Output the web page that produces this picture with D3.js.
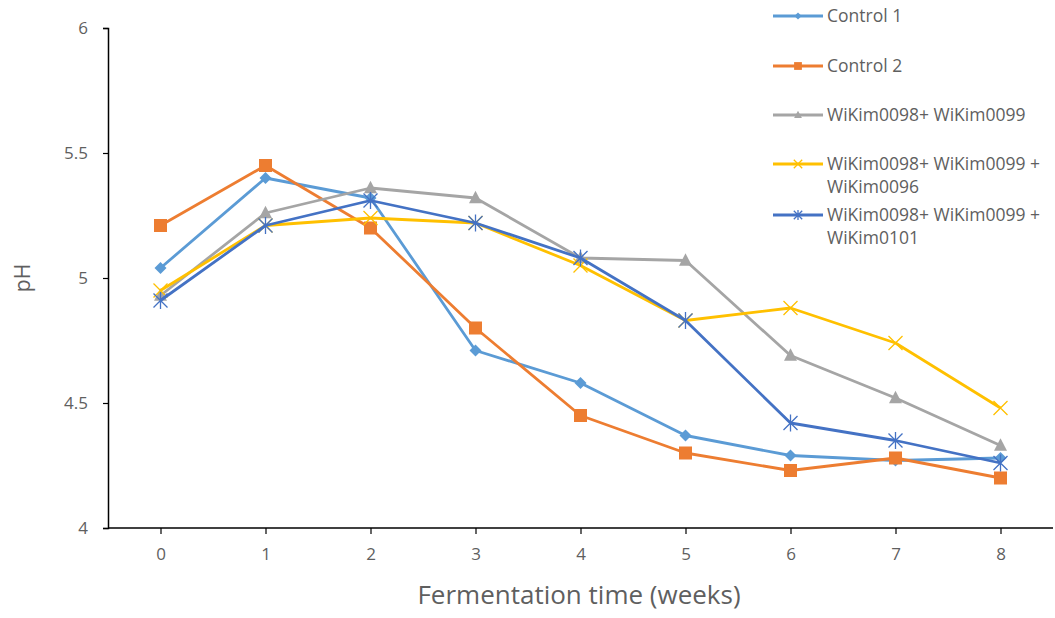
<!DOCTYPE html>
<html>
<head>
<meta charset="utf-8">
<script src="https://cdn.jsdelivr.net/npm/d3@7"></script>
<style>
  html, body { margin: 0; padding: 0; background: #fff; }
  svg { display: block; font-family: "Open Sans", "DejaVu Sans", sans-serif; }
</style>
</head>
<body>
<svg id="chart" width="1055" height="618"></svg>
<script>
// Fermentation weeks
const weeks = [0, 1, 2, 3, 4, 5, 6, 7, 8];

// pH per treatment
const control1 = [5.04, 5.40, 5.32, 4.71, 4.58, 4.37, 4.29, 4.27, 4.28];
const control2 = [5.21, 5.45, 5.20, 4.80, 4.45, 4.30, 4.23, 4.28, 4.20];
const wk98_99 = [4.93, 5.26, 5.36, 5.32, 5.08, 5.07, 4.69, 4.52, 4.33];
const wk98_99_96 = [4.95, 5.21, 5.24, 5.22, 5.05, 4.83, 4.88, 4.74, 4.48];
const wk98_99_101 = [4.91, 5.21, 5.31, 5.22, 5.08, 4.83, 4.42, 4.35, 4.26];

const yTicks = [4, 4.5, 5, 5.5, 6];

const seriesNames = [
  ["Control 1"],
  ["Control 2"],
  ["WiKim0098+ WiKim0099"],
  ["WiKim0098+ WiKim0099 +", "WiKim0096"],
  ["WiKim0098+ WiKim0099 +", "WiKim0101"]
];

const series = [
  { lines: seriesNames[0], values: control1, color: "#5B9BD5", marker: "diamond" },
  { lines: seriesNames[1], values: control2, color: "#ED7D31", marker: "square" },
  { lines: seriesNames[2], values: wk98_99, color: "#A5A5A5", marker: "triangle" },
  { lines: seriesNames[3], values: wk98_99_96, color: "#FFC000", marker: "x" },
  { lines: seriesNames[4], values: wk98_99_101, color: "#4472C4", marker: "star" }
];

const svg = d3.select("#chart");
const plotLeft = 108, plotRight = 1053, plotTop = 28, plotBottom = 528;
const textColor = "#5f5f5f";

const x = d3.scalePoint().domain(weeks).range([plotLeft, plotRight]).padding(0.5);
const y = d3.scaleLinear().domain([4, 6]).range([plotBottom, plotTop]);

// Axes
const yAxis = svg.append("g")
  .attr("transform", `translate(${plotLeft},0)`)
  .call(d3.axisLeft(y).tickValues(yTicks).tickSize(5).tickPadding(15).tickFormat(d3.format("")));
const xAxis = svg.append("g")
  .attr("transform", `translate(0,${plotBottom})`)
  .call(d3.axisBottom(x).tickSize(6).tickPadding(14).tickSizeOuter(0));

[yAxis, xAxis].forEach(a => {
  a.select(".domain").attr("stroke", "#000").attr("stroke-width", 1.5);
  a.selectAll(".tick line").attr("stroke", "#000").attr("stroke-width", 1.2);
  a.selectAll(".tick text").attr("fill", textColor).attr("font-size", 17)
    .attr("font-family", "\"Open Sans\", sans-serif");
});
xAxis.select(".domain").attr("d", `M${plotLeft},0H${plotRight}`);

// Axis titles
svg.append("text")
  .attr("x", 579).attr("y", 604)
  .attr("text-anchor", "middle")
  .attr("fill", textColor).attr("font-size", 26)
  .text("Fermentation  time (weeks)");
svg.append("text")
  .attr("transform", "translate(30,278) rotate(-90)")
  .attr("text-anchor", "middle")
  .attr("fill", textColor).attr("font-size", 21)
  .text("pH");

// Marker drawing
function drawMarker(g, type, color, s) {
  if (type === "diamond") {
    g.append("path").attr("d", `M0,${-s}L${s},0L0,${s}L${-s},0Z`).attr("fill", color);
  } else if (type === "square") {
    g.append("rect").attr("x", -s).attr("y", -s).attr("width", 2 * s).attr("height", 2 * s).attr("fill", color);
  } else if (type === "triangle") {
    g.append("path").attr("d", `M0,${-s * 1.1}L${s},${s * 0.8}L${-s},${s * 0.8}Z`).attr("fill", color);
  } else if (type === "x") {
    g.append("path").attr("d", `M${-s},${-s}L${s},${s}M${-s},${s}L${s},${-s}`)
      .attr("stroke", color).attr("stroke-width", 1.3).attr("fill", "none");
  } else if (type === "star") {
    g.append("path").attr("d", `M${-s},${-s}L${s},${s}M${-s},${s}L${s},${-s}M0,${-s * 1.2}L0,${s * 1.2}`)
      .attr("stroke", color).attr("stroke-width", 1.3).attr("fill", "none");
  }
}

const markerSize = { diamond: 6, square: 6.5, triangle: 6.5, x: 7, star: 7 };

const line = d3.line().x((d, i) => x(weeks[i])).y(d => y(d));

series.forEach(s => {
  const g = svg.append("g");
  g.append("path")
    .attr("d", line(s.values))
    .attr("fill", "none")
    .attr("stroke", s.color)
    .attr("stroke-width", 2.8)
    .attr("stroke-linejoin", "round");
  s.values.forEach((v, i) => {
    const m = g.append("g").attr("transform", `translate(${x(weeks[i])},${y(v)})`);
    drawMarker(m, s.marker, s.color, markerSize[s.marker]);
  });
});

// Legend
const legendY = [16, 66, 115, 164, 215];
series.forEach((s, i) => {
  const g = svg.append("g").attr("transform", `translate(773,${legendY[i]})`);
  g.append("line").attr("x1", 0).attr("x2", 50).attr("y1", 0).attr("y2", 0)
    .attr("stroke", s.color).attr("stroke-width", 2.8);
  const m = g.append("g").attr("transform", "translate(25,0)");
  drawMarker(m, s.marker, s.color, markerSize[s.marker] * 0.6);
  s.lines.forEach((t, j) => {
    g.append("text").attr("x", 54).attr("y", j * 23).attr("dy", "0.35em")
      .attr("fill", textColor).attr("font-size", 17.5).text(t);
  });
});
</script>
</body>
</html>
